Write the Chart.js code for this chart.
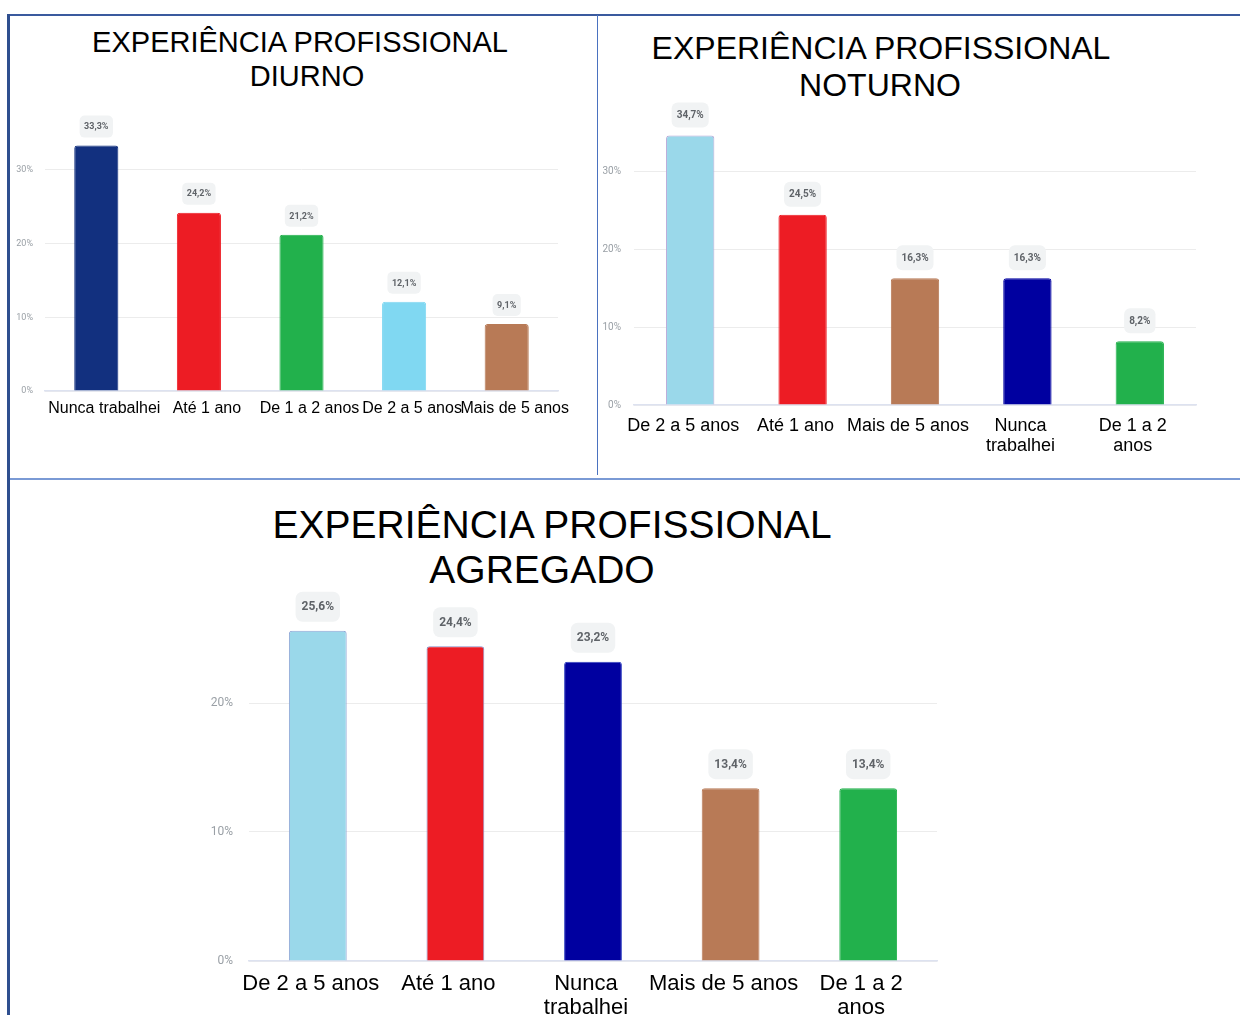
<!DOCTYPE html>
<html>
<head>
<meta charset="utf-8">
<script src="https://cdn.jsdelivr.net/npm/chart.js@4.4.1/dist/chart.umd.min.js"></script>
<style>
  html, body { margin: 0; padding: 0; background: #fff; }
  body { width: 1240px; height: 1015px; position: relative; overflow: hidden; font-family: "Liberation Sans", Arial, sans-serif; }
  .linha { position: absolute; }
  .titulo { position: absolute; transform: translate(-50%, -50%); white-space: nowrap; color: #000; }
  .painel { position: absolute; }
</style>
</head>
<body>
  <!-- molduras -->
  <div class="linha" style="left:8px; top:14px; width:1232px; height:2px; background:#3a5a9e;"></div>
  <div class="linha" style="left:7px; top:14px; width:3px; height:1001px; background:#2f4f8f;"></div>
  <div class="linha" style="left:597px; top:15px; width:1px; height:460px; background:#4a72c0;"></div>
  <div class="linha" style="left:10px; top:478px; width:1230px; height:2px; background:#7a9ad5;"></div>

  <!-- titulos -->
  <div class="titulo" style="left:300px; top:42px; font-size:29px;">EXPERIÊNCIA PROFISSIONAL</div>
  <div class="titulo" style="left:307px; top:76px; font-size:29px;">DIURNO</div>
  <div class="titulo" style="left:881px; top:48px; font-size:32px;">EXPERIÊNCIA PROFISSIONAL</div>
  <div class="titulo" style="left:880px; top:85px; font-size:32px;">NOTURNO</div>
  <div class="titulo" style="left:552px; top:525px; font-size:39px;">EXPERIÊNCIA PROFISSIONAL</div>
  <div class="titulo" style="left:542px; top:570px; font-size:39px;">AGREGADO</div>

  <div class="painel" style="left:10px; top:90px;"><canvas id="graficaDiurno" width="586" height="380"></canvas></div>
  <div class="painel" style="left:600px; top:88px;"><canvas id="graficaNoturno" width="636" height="380"></canvas></div>
  <div class="painel" style="left:200px; top:568px;"><canvas id="graficaAgregado" width="760" height="447"></canvas></div>

<script>
// Dados
const diurnoCategorias = ['Nunca trabalhei', 'Até 1 ano', 'De 1 a 2 anos', 'De 2 a 5 anos', 'Mais de 5 anos'];
const diurnoValores = [33.3, 24.2, 21.2, 12.1, 9.1];

const noturnoCategorias = ['De 2 a 5 anos', 'Até 1 ano', 'Mais de 5 anos', ['Nunca', 'trabalhei'], ['De 1 a 2', 'anos']];
const noturnoValores = [34.7, 24.5, 16.3, 16.3, 8.2];

const agregadoCategorias = ['De 2 a 5 anos', 'Até 1 ano', ['Nunca', 'trabalhei'], 'Mais de 5 anos', ['De 1 a 2', 'anos']];
const agregadoValores = [25.6, 24.4, 23.2, 13.4, 13.4];

const ticksY = [0, 10, 20, 30];

// Cores
const cor = {
  navy: '#12307f', azulEscuro: '#0000a0', vermelho: '#ed1c24', verde: '#22b14c',
  celeste: '#80d8f2', celesteClaro: '#9ad8ea', marrom: '#b87a56'
};

// Rótulos com caixa cinza acima das barras
const rotulosCaixa = {
  id: 'rotulosCaixa',
  afterDatasetsDraw(chart, args, opts) {
    const ctx = chart.ctx;
    const meta = chart.getDatasetMeta(0);
    const dados = chart.data.datasets[0].data;
    ctx.save();
    ctx.font = 'bold ' + opts.size + 'px Roboto, "Liberation Sans", sans-serif';
    ctx.textAlign = 'center';
    ctx.textBaseline = 'middle';
    meta.data.forEach((barra, i) => {
      const txt = dados[i].toFixed(1).replace('.', ',') + '%';
      const w = ctx.measureText(txt).width + opts.padX * 2;
      const cy = barra.y - opts.offset;
      ctx.fillStyle = '#f1f3f4';
      ctx.beginPath();
      ctx.roundRect(barra.x - w / 2, cy - opts.h / 2, w, opts.h, opts.r);
      ctx.fill();
      ctx.fillStyle = '#5f6368';
      ctx.fillText(txt, barra.x, cy + 0.5);
    });
    ctx.restore();
  }
};

function criarGrafica(id, categorias, valores, cores, bordas, cfg) {
  return new Chart(document.getElementById(id), {
    type: 'bar',
    data: {
      labels: categorias,
      datasets: [{
        data: valores,
        backgroundColor: cores,
        borderColor: bordas,
        borderWidth: 1,
        borderSkipped: 'bottom',
        borderRadius: 3,
        barPercentage: cfg.barra,
        categoryPercentage: 1
      }]
    },
    options: {
      responsive: false,
      animation: false,
      layout: { padding: { top: cfg.padTop, right: cfg.padRight, left: 0, bottom: 0 } },
      plugins: {
        legend: { display: false },
        tooltip: { enabled: false },
        rotulosCaixa: cfg.rotulos
      },
      scales: {
        x: {
          grid: { display: false },
          border: { display: true, color: '#dde2f0', width: 1.5 },
          ticks: {
            color: '#000',
            font: { family: '"Liberation Sans", Arial, sans-serif', size: cfg.fonteX, lineHeight: cfg.alturaLinha },
            padding: cfg.padX,
            labelOffset: cfg.desvioX,
            maxRotation: 0, minRotation: 0, autoSkip: false
          },
          afterFit: s => { s.height = cfg.alturaX; }
        },
        y: {
          min: 0,
          max: cfg.max,
          border: { display: false },
          grid: { color: '#ececec', lineWidth: 1, drawTicks: false },
          afterBuildTicks: s => { s.ticks = ticksY.filter(v => v <= cfg.max).map(v => ({ value: v })); },
          ticks: {
            color: '#9aa0a6',
            font: { family: 'Roboto, sans-serif', size: cfg.fonteY },
            padding: cfg.padY,
            callback: v => v + '%'
          },
          afterFit: s => { s.width = cfg.larguraY; }
        }
      }
    },
    plugins: [rotulosCaixa]
  });
}

criarGrafica('graficaDiurno', diurnoCategorias, diurnoValores,
  [cor.navy, cor.vermelho, cor.verde, cor.celeste, cor.marrom],
  [cor.navy, cor.vermelho, cor.verde, cor.celeste, cor.marrom],
  { barra: 0.43, padTop: 35.7, padRight: 38, max: 36, alturaX: 79, larguraY: 35,
    fonteX: 16, alturaLinha: 1.1, padX: 1, desvioX: 8, fonteY: 9, padY: 12,
    rotulos: { size: 9, padX: 4.5, h: 22, offset: 19, r: 5 } });

criarGrafica('graficaNoturno', noturnoCategorias, noturnoValores,
  [cor.celesteClaro, cor.vermelho, cor.marrom, cor.azulEscuro, cor.verde],
  ['#b9a9d9', cor.vermelho, cor.marrom, cor.azulEscuro, cor.verde],
  { barra: 0.43, padTop: 37.3, padRight: 40, max: 36, alturaX: 63, larguraY: 34,
    fonteX: 18, alturaLinha: 1.1, padX: 3, desvioX: -7, fonteY: 10, padY: 13,
    rotulos: { size: 10, padX: 5, h: 25, offset: 20.5, r: 6 } });

criarGrafica('graficaAgregado', agregadoCategorias, agregadoValores,
  [cor.celesteClaro, cor.vermelho, cor.azulEscuro, cor.marrom, cor.verde],
  ['#8fa6d6', '#8a8fc8', '#3040c0', cor.marrom, cor.verde],
  { barra: 0.42, padTop: 31.8, padRight: 23, max: 28, alturaX: 54, larguraY: 49,
    fonteX: 22, alturaLinha: 1.1, padX: 3, desvioX: -7, fonteY: 12, padY: 16,
    rotulos: { size: 12, padX: 6, h: 30, offset: 24, r: 7 } });
</script>
</body>
</html>
